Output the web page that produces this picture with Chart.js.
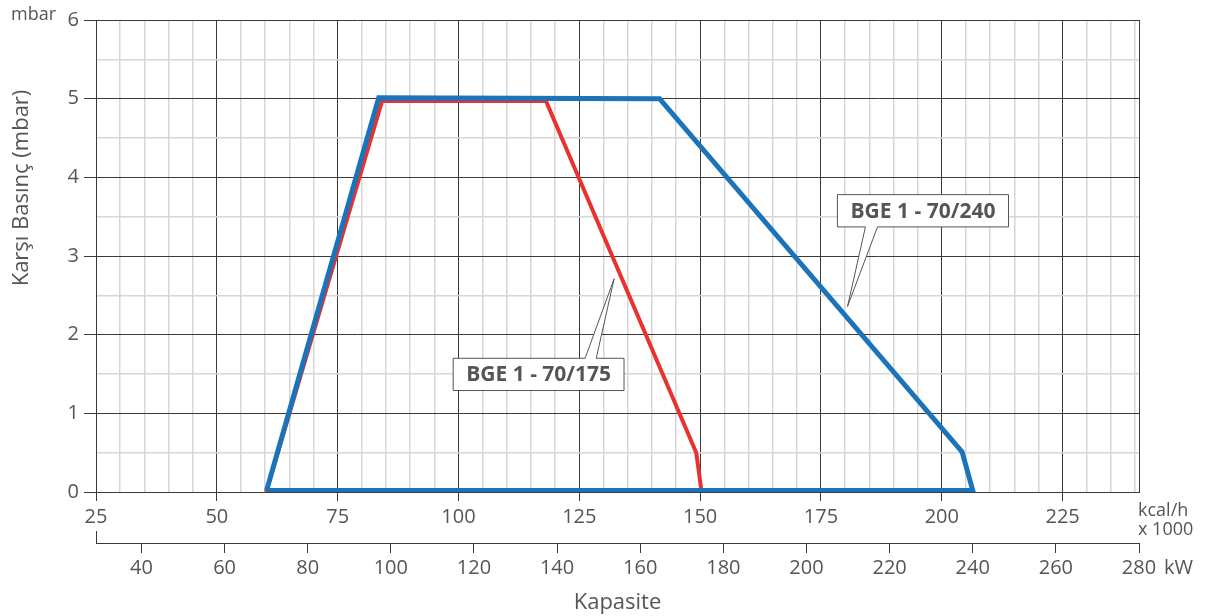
<!DOCTYPE html>
<html>
<head>
<meta charset="utf-8">
<script src="https://cdn.jsdelivr.net/npm/chart.js@4.4.1/dist/chart.umd.min.js"></script>
<style>
  html, body { margin: 0; padding: 0; background: #fff; }
  #wrap { position: absolute; left: 0; top: 0; width: 1205px; height: 616px; }
</style>
</head>
<body>
<div id="wrap"><canvas id="grafica"></canvas></div>
<script>
// Kapasite (kcal/h x 1000) ve karşı basınç (mbar) değerleri
const blueX = [60.3, 83.5, 141.6, 204.2, 206.4, 60.3];
const blueY = [0.02, 5.01, 5.0, 0.51, 0.02, 0.02];
const redX = [60.2, 84.2, 118.1, 149.2, 150.3, 60.2];
const redY = [0, 4.97, 4.97, 0.5, 0, 0];

const seriesNames = ['BGE 1 - 70/240', 'BGE 1 - 70/175'];

// Eksen etiketleri
const kcalTicks = [25, 50, 75, 100, 125, 150, 175, 200, 225];
const kwTicks = [40, 60, 80, 100, 120, 140, 160, 180, 200, 220, 240, 260, 280];
const mbarTicks = [0, 1, 2, 3, 4, 5, 6];

const KW_TO_KCAL = 0.86;
const KW_MAX = 280;
const KCAL_MIN = 25;
const KCAL_MAX = KW_MAX * KW_TO_KCAL;

const DARK = '#3a3a3a';
const LIGHT = '#d6d6d6';
const TEXT = '#555';
const FONT = "'Open Sans', sans-serif";

// etiket kutuları (veri koordinatlarında)
const callouts = [
    { text: seriesNames[1], box: [98.9, 134.25, 1.70, 1.29], edge: 'top', base: [126.2, 128.5], tip: [132.2, 2.71] },
    { text: seriesNames[0], box: [178.4, 213.8, 3.78, 3.37], edge: 'bottom', base: [184.2, 186.7], tip: [180.5, 2.36] }
];

const toPoints = (xs, ys) => xs.map((x, i) => ({ x: x, y: ys[i] }));

// ara çizgiler için değerler
const minorX = [];
for (let v = KCAL_MIN; v < KCAL_MAX; v += 5) minorX.push(v);
minorX.push(KCAL_MAX);
const minorY = [];
for (let v = 0; v <= 6; v += 0.5) minorY.push(v);

const isMajorX = v => kcalTicks.includes(v);
const isMajorY = v => mbarTicks.includes(v);

const extras = {
    id: 'extras',
    afterDraw(chart) {
        const ctx = chart.ctx;
        const ca = chart.chartArea;
        const xs = chart.scales.x;
        const x2 = chart.scales.x2;
        const ys = chart.scales.y;

        ctx.save();
        ctx.fillStyle = TEXT;

        // mbar
        ctx.font = '18px ' + FONT;
        ctx.textAlign = 'left';
        ctx.textBaseline = 'middle';
        ctx.fillText('mbar', 11, ca.top - 5);

        // y başlığı
        ctx.save();
        ctx.font = '22px ' + FONT;
        ctx.translate(22, 188);
        ctx.rotate(-Math.PI / 2);
        ctx.textAlign = 'center';
        ctx.textBaseline = 'middle';
        ctx.fillText('Karşı Basınç (mbar)', 0, 0);
        ctx.restore();

        // birimler
        ctx.font = '18px ' + FONT;
        ctx.textAlign = 'left';
        ctx.fillText('kcal/h', ca.right - 1, xs.top + 19);
        ctx.fillText('x 1000', ca.right - 1, xs.top + 38);
        ctx.font = '20px ' + FONT;
        ctx.fillText('kW', ca.right + 25, x2.top + 25);

        // kW ekseninin sol ucu
        ctx.strokeStyle = DARK;
        ctx.lineWidth = 1;
        ctx.beginPath();
        ctx.moveTo(Math.round(x2.left) + 0.5, x2.top - 12);
        ctx.lineTo(Math.round(x2.left) + 0.5, x2.top + 0.5);
        ctx.stroke();

        // etiket kutuları
        callouts.forEach(c => {
            const l = xs.getPixelForValue(c.box[0]);
            const r = xs.getPixelForValue(c.box[1]);
            const t = ys.getPixelForValue(c.box[2]);
            const b = ys.getPixelForValue(c.box[3]);
            const ba = xs.getPixelForValue(c.base[0]);
            const bb = xs.getPixelForValue(c.base[1]);
            const tx = xs.getPixelForValue(c.tip[0]);
            const ty = ys.getPixelForValue(c.tip[1]);

            ctx.beginPath();
            if (c.edge === 'top') {
                ctx.moveTo(l, t);
                ctx.lineTo(ba, t);
                ctx.lineTo(tx, ty);
                ctx.lineTo(bb, t);
                ctx.lineTo(r, t);
                ctx.lineTo(r, b);
                ctx.lineTo(l, b);
            } else {
                ctx.moveTo(l, t);
                ctx.lineTo(r, t);
                ctx.lineTo(r, b);
                ctx.lineTo(bb, b);
                ctx.lineTo(tx, ty);
                ctx.lineTo(ba, b);
                ctx.lineTo(l, b);
            }
            ctx.closePath();
            ctx.fillStyle = '#fff';
            ctx.fill();
            ctx.lineWidth = 1;
            ctx.strokeStyle = '#555';
            ctx.stroke();

            ctx.fillStyle = '#555';
            ctx.font = 'bold 21px ' + FONT;
            ctx.textAlign = 'center';
            ctx.textBaseline = 'middle';
            ctx.fillText(c.text, (l + r) / 2, (t + b) / 2 + 1);
        });
        ctx.restore();
    }
};

const ctx = document.getElementById('grafica').getContext('2d');
const chartInstance = new Chart(ctx, {
    type: 'line',
    data: {
        datasets: [
            {
                label: seriesNames[0],
                data: toPoints(blueX, blueY),
                borderColor: '#1b73ba',
                borderWidth: 5,
                pointRadius: 0,
                tension: 0,
                fill: false,
                borderJoinStyle: 'miter'
            },
            {
                label: seriesNames[1],
                data: toPoints(redX, redY),
                borderColor: '#e8322f',
                borderWidth: 4,
                pointRadius: 0,
                tension: 0,
                fill: false,
                borderJoinStyle: 'miter'
            }
        ]
    },
    options: {
        responsive: true,
        maintainAspectRatio: false,
        animation: false,
        layout: { padding: { top: 20, right: 66, left: 0, bottom: 0 } },
        plugins: {
            legend: { display: false },
            tooltip: { enabled: false }
        },
        scales: {
            x: {
                type: 'linear',
                position: 'bottom',
                weight: 0,
                min: KCAL_MIN,
                max: KCAL_MAX,
                afterBuildTicks: s => { s.ticks = minorX.map(v => ({ value: v })); },
                afterFit: s => { s.height = 51; },
                ticks: {
                    autoSkip: false,
                    maxRotation: 0,
                    padding: 4,
                    color: TEXT,
                    font: { family: FONT, size: 20 },
                    callback: v => isMajorX(v) ? v : ''
                },
                grid: {
                    color: c => (isMajorX(c.tick.value) || c.tick.value === KCAL_MAX) ? DARK : LIGHT,
                    lineWidth: c => (isMajorX(c.tick.value) || c.tick.value === KCAL_MAX) ? 1 : 1.5,
                    tickLength: 9,
                    tickColor: c => isMajorX(c.tick.value) ? DARK : 'rgba(0,0,0,0)'
                },
                border: { display: true, color: DARK, width: 1 }
            },
            x2: {
                type: 'linear',
                position: 'bottom',
                weight: 1,
                min: KCAL_MIN / KW_TO_KCAL,
                max: KW_MAX,
                afterBuildTicks: s => { s.ticks = kwTicks.map(v => ({ value: v })); },
                afterFit: s => { s.height = 73; },
                ticks: {
                    autoSkip: false,
                    maxRotation: 0,
                    padding: 3,
                    color: TEXT,
                    font: { family: FONT, size: 20 }
                },
                grid: {
                    drawOnChartArea: false,
                    drawTicks: true,
                    tickLength: 10,
                    tickColor: DARK
                },
                border: { display: true, color: DARK, width: 1 },
                title: {
                    display: true,
                    text: 'Kapasite',
                    color: TEXT,
                    font: { family: FONT, size: 22 },
                    padding: { top: 0, bottom: 0 }
                }
            },
            y: {
                type: 'linear',
                min: 0,
                max: 6,
                afterBuildTicks: s => { s.ticks = minorY.map(v => ({ value: v })); },
                afterFit: s => { s.width = 96; },
                ticks: {
                    autoSkip: false,
                    padding: 5,
                    color: TEXT,
                    font: { family: FONT, size: 20 },
                    callback: v => isMajorY(v) ? v : ''
                },
                grid: {
                    color: c => isMajorY(c.tick.value) ? DARK : LIGHT,
                    lineWidth: c => isMajorY(c.tick.value) ? 1 : 1.5,
                    tickLength: 12,
                    tickColor: c => isMajorY(c.tick.value) ? DARK : 'rgba(0,0,0,0)'
                },
                border: { display: true, color: DARK, width: 1 }
            }
        }
    },
    plugins: [extras]
});
</script>
</body>
</html>
